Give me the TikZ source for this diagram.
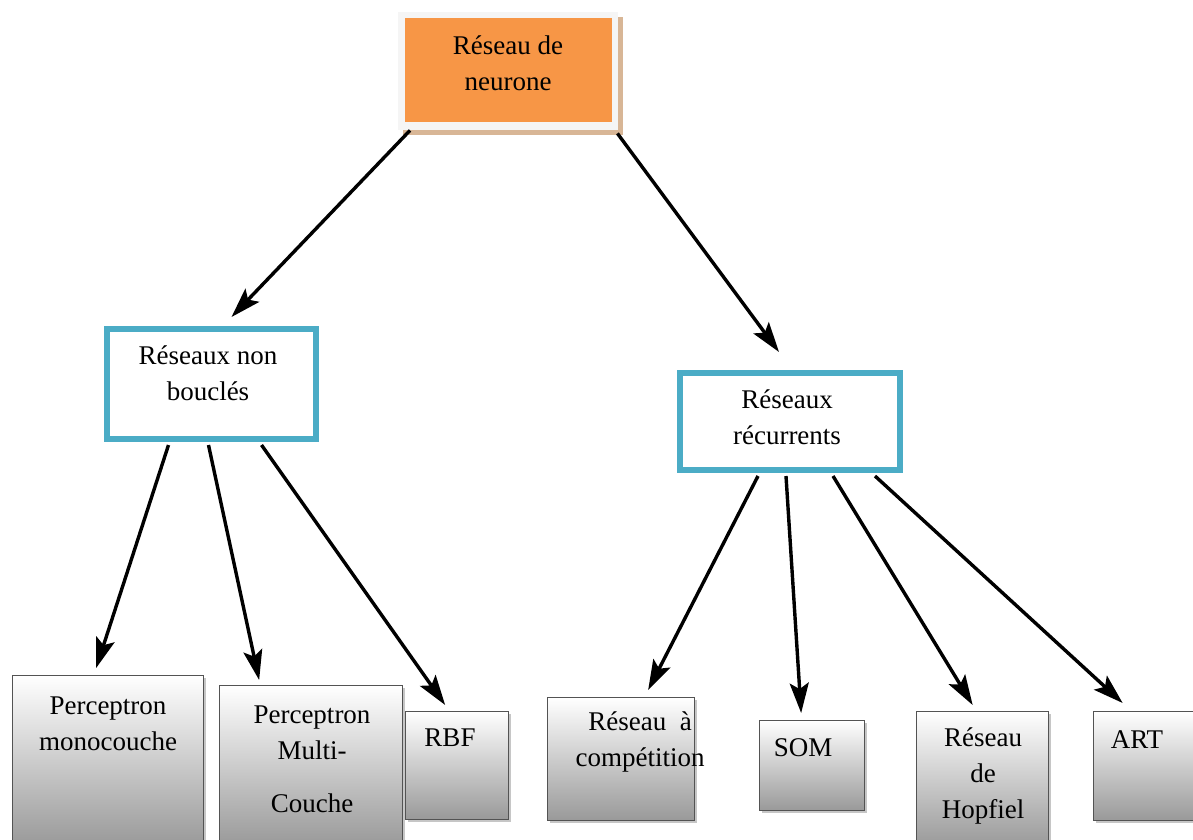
\documentclass[tikz,border=0pt]{standalone}
\usepackage{fontspec}
\setmainfont{Liberation Serif}
\usetikzlibrary{arrows.meta,calc,shadows}
\definecolor{orangeF}{HTML}{F79646}
\definecolor{blueB}{HTML}{4BACC6}
\definecolor{tanS}{HTML}{D8B696}
\begin{document}
\begin{tikzpicture}[x=1pt,y=-1pt,
  txt/.style={font=\fontsize{27}{36}\selectfont, align=center, inner sep=0pt, text=black},
  leaf/.style={draw=gray!65!black, line width=1.3pt, top color=white, bottom color=gray!80,
    drop shadow={shadow xshift=2.5pt, shadow yshift=-2.5pt, fill=gray!45, opacity=1},
    inner sep=0pt, anchor=north west},
  cat/.style={draw=blueB, line width=6pt, fill=white, inner sep=0pt, anchor=north west},
  arr/.style={line width=3.4pt, draw=black, -{Stealth[length=30pt,width=19pt,inset=6pt]}}]
\useasboundingbox (0,0) rectangle (1193,839);

% top box
\node[fill=gray!8, minimum width=220pt, minimum height=118pt, inner sep=0pt, anchor=north west,
  drop shadow={shadow xshift=5pt, shadow yshift=-5pt, fill=tanS, opacity=1}] (top) at (398,12) {};
\node[fill=orangeF, minimum width=207pt, minimum height=104pt, inner sep=0pt, anchor=north west] (topin) at (405,18) {};
\node[txt] (ttop) at (508,63) {Réseau de\\neurone};

% category boxes
\node[cat, minimum width=209pt, minimum height=110pt] (nb) at (104,326) {};
\node[txt] (tnb) at (208,373) {Réseaux non\\bouclés};
\node[cat, minimum width=220pt, minimum height=97pt] (rc) at (677,370) {};
\node[txt] (trc) at (787,417) {Réseaux\\récurrents};

% leaves
\node[leaf, minimum width=191pt, minimum height=170pt] (mono) at (12,675) {};
\node[txt] (tmono) at (108,724) {Perceptron\\monocouche};
\node[leaf, minimum width=183pt, minimum height=160pt] (multi) at (219,685) {};
\node[txt] (tmulti) at (312,759) {Perceptron\\Multi-\\[17pt]Couche};
\node[leaf, minimum width=103pt, minimum height=108pt] (rbf) at (405,711) {};
\node[txt] (trbf) at (450,738) {RBF};
\node[leaf, minimum width=147pt, minimum height=123pt] (comp) at (547,697) {};
\node[txt] (tcomp) at (640,742) {Réseau~ à\\compétition};
\node[leaf, minimum width=105pt, minimum height=90pt] (som) at (759,720) {};
\node[txt] (tsom) at (803,748) {SOM};
\node[leaf, minimum width=132pt, minimum height=135pt] (hop) at (916,711) {};
\node[txt] (thop) at (983,776) {Réseau\\de\\Hopfiel};
\node[leaf, minimum width=104pt, minimum height=109pt] (art) at (1093,711) {};
\node[txt] (tart) at (1137,740) {ART};

% arrows
\draw[arr] ($(top.south west)+(12,0)$) -- ($(nb.north)+(20,-9)$);
\draw[arr] ($(top.south east)+(-1,3)$) -- ($(rc.north)+(-11,-18)$);

\draw[arr] ($(nb.south)+(-43,3)$) -- ($(mono.north)+(-12,-7)$);
\draw[arr] ($(nb.south)+(-3,3)$) -- ($(multi.north)+(-52,-5)$);
\draw[arr] ($(nb.south)+(50,3)$) -- ($(rbf.north)+(-12,-6)$);

\draw[arr] ($(rc.south)+(-32,3)$) -- ($(comp.north)+(27,-7)$);
\draw[arr] ($(rc.south)+(-4,3)$) -- ($(som.north)+(-11,-7)$);
\draw[arr] ($(rc.south)+(43,3)$) -- ($(hop.north)+(-10,-6)$);
\draw[arr] ($(rc.south)+(85,3)$) -- ($(art.north)+(-23,-8)$);
\end{tikzpicture}
\end{document}
